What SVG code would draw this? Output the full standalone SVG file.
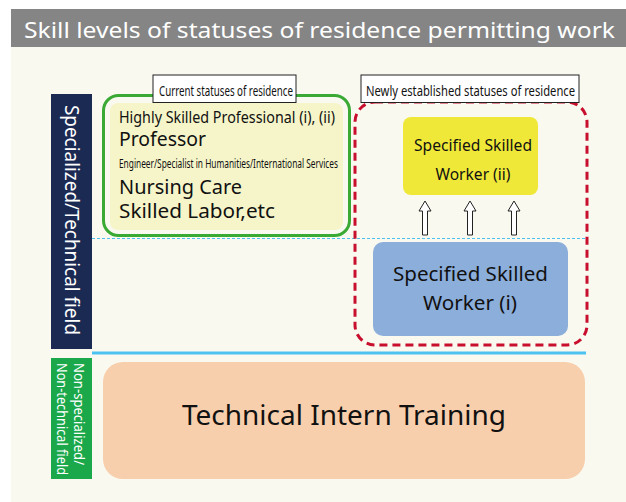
<svg xmlns="http://www.w3.org/2000/svg" width="626" height="502" viewBox="0 0 626 502">
<style>
text{font-family:"Noto Sans","DejaVu Sans",sans-serif;fill:#111}
.w{fill:#fff}
.c{text-anchor:middle}
.arrow{fill:#fff;stroke:#222;stroke-width:1}
</style>
<rect x="0" y="0" width="626" height="502" fill="#fff"/>
<rect x="11" y="47" width="615" height="455" fill="#f9f9f0"/>
<g id="title">
<rect x="11" y="9" width="615" height="38" fill="#858585"/>
<text class="w" x="24" y="38" font-size="22" textLength="591" lengthAdjust="spacingAndGlyphs">Skill levels of statuses of residence permitting work</text>
</g>
<g id="axis-specialized">
<rect x="51" y="94" width="41" height="255" fill="#1b2a52"/>
<text class="w" transform="translate(65,105) rotate(90)" font-size="19" textLength="230" lengthAdjust="spacingAndGlyphs">Specialized/Technical field</text>
</g>
<g id="axis-nonspecialized">
<rect x="51" y="358" width="41" height="121" fill="#1aa84b"/>
<text class="w" transform="translate(74,363) rotate(90)" font-size="14" textLength="102" lengthAdjust="spacingAndGlyphs">Non-specialized/</text>
<text class="w" transform="translate(57,363) rotate(90)" font-size="14" textLength="112" lengthAdjust="spacingAndGlyphs">Non-technical field</text>
</g>
<g id="dividers">
<line x1="92" y1="238.5" x2="586" y2="238.5" stroke="#4dc2f0" stroke-width="1" stroke-dasharray="3,2"/>
<line x1="92" y1="353" x2="586" y2="353" stroke="#4dc2f0" stroke-width="3"/>
</g>
<g id="current">
<rect x="103.5" y="95.5" width="246" height="140" rx="15" fill="#f9f9f0" stroke="#3aaa35" stroke-width="3"/>
<rect x="110" y="103" width="233" height="127" rx="8" fill="#f6f5c9"/>
<rect x="153" y="75" width="143" height="27.5" fill="#fff" stroke="#222" stroke-width="1"/>
<text x="159" y="96" font-size="14" textLength="134" lengthAdjust="spacingAndGlyphs">Current statuses of residence</text>
<text x="119" y="123" font-size="17" textLength="216" lengthAdjust="spacingAndGlyphs">Highly Skilled Professional (i), (ii)</text>
<text x="119" y="146" font-size="19" textLength="87" lengthAdjust="spacingAndGlyphs">Professor</text>
<text x="119" y="168" font-size="12" textLength="219" lengthAdjust="spacingAndGlyphs">Engineer/Specialist in Humanities/International Services</text>
<text x="119" y="194" font-size="19" textLength="123" lengthAdjust="spacingAndGlyphs">Nursing Care</text>
<text x="119" y="218" font-size="19" textLength="156" lengthAdjust="spacingAndGlyphs">Skilled Labor,etc</text>
</g>
<g id="new">
<rect x="355" y="102" width="232" height="243" rx="20" fill="none" stroke="#c8102e" stroke-width="3" stroke-dasharray="8,5"/>
<rect x="361" y="75" width="218" height="27.5" fill="#fff" stroke="#222" stroke-width="1"/>
<text x="366" y="96" font-size="14" textLength="209" lengthAdjust="spacingAndGlyphs">Newly established statuses of residence</text>
</g>
<g id="ssw2">
<rect x="403" y="117" width="135" height="78" rx="8" fill="#efe838"/>
<text class="c" x="473" y="151" font-size="17" textLength="118" lengthAdjust="spacingAndGlyphs">Specified Skilled</text>
<text class="c" x="473" y="180" font-size="17" textLength="75" lengthAdjust="spacingAndGlyphs">Worker (ii)</text>
</g>
<g id="ssw1">
<rect x="373" y="242" width="195" height="94" rx="10" fill="#8caedb"/>
<text class="c" x="470.5" y="281" font-size="20" textLength="155" lengthAdjust="spacingAndGlyphs">Specified Skilled</text>
<text class="c" x="470" y="310" font-size="20" textLength="94" lengthAdjust="spacingAndGlyphs">Worker (i)</text>
</g>
<g id="connectors">
<path class="arrow" d="M425,201 L431,211 L427.5,211 L427.5,235 L422.5,235 L422.5,211 L419,211 Z"/>
<path class="arrow" d="M470,201 L476,211 L472.5,211 L472.5,235 L467.5,235 L467.5,211 L464,211 Z"/>
<path class="arrow" d="M514,201 L520,211 L516.5,211 L516.5,235 L511.5,235 L511.5,211 L508,211 Z"/>
</g>
<g id="tit">
<rect x="103" y="362" width="482" height="117" rx="20" fill="#f8cfad"/>
<text class="c" x="344" y="425" font-size="28" textLength="324" lengthAdjust="spacingAndGlyphs">Technical Intern Training</text>
</g>
</svg>
